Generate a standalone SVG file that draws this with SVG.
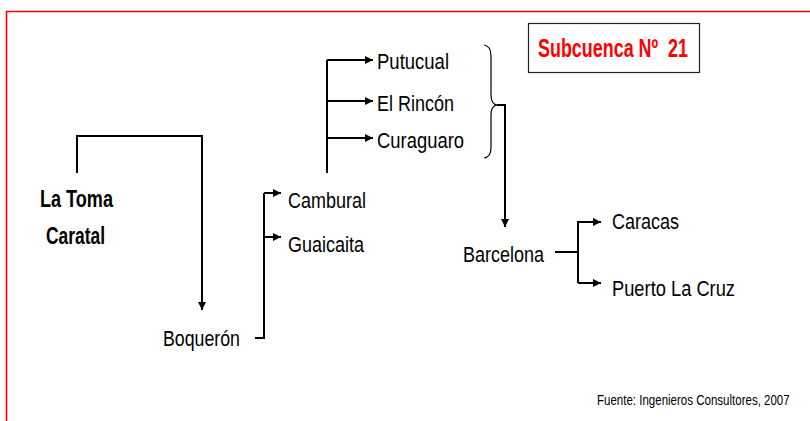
<svg xmlns="http://www.w3.org/2000/svg" width="810" height="421" viewBox="0 0 810 421">
<defs>
<marker id="ah" viewBox="0 0 10 10" refX="10" refY="5" markerWidth="8" markerHeight="8" markerUnits="userSpaceOnUse" orient="auto">
<path d="M0,0 L10,5 L0,10 z" fill="#000"/>
</marker>
</defs>
<style>
.t{font-family:"Liberation Sans Narrow","Liberation Sans",Arial,sans-serif;font-size:22px;fill:#000}
.b{font-weight:bold;font-size:23px}
.ln{fill:none;stroke:#000;stroke-width:2}
.ar{marker-end:url(#ah)}
</style>
<rect width="810" height="421" fill="#fff"/>
<path d="M6.5,421 V11.5 H810" fill="none" stroke="#f00" stroke-width="1.6"/>
<g id="subcuenca">
<rect x="528.5" y="23.5" width="171" height="49" fill="#fff" stroke="#222" stroke-width="1.2"/>
<text class="t b" x="538" y="57" xml:space="preserve" style="fill:#f00;font-size:25px;white-space:pre" textLength="150" lengthAdjust="spacingAndGlyphs">Subcuenca Nº  21</text>
</g>
<g id="connectors">
<path class="ln ar" d="M77,173 V136 H202 V310"/>
<path class="ln" d="M255,338 H264 V193"/>
<path class="ln ar" d="M264,193 H281"/>
<path class="ln ar" d="M264,237 H281"/>
<path class="ln" d="M327,173 V60"/>
<path class="ln ar" d="M327,60 H373"/>
<path class="ln ar" d="M327,101 H373"/>
<path class="ln ar" d="M327,138 H373"/>
<path d="M484,45 Q491,46 491,56 V95 Q491,104 497,105 Q491,106 491,115 V148 Q491,157 484,158" fill="none" stroke="#000" stroke-width="1.2"/>
<path class="ln ar" d="M497,105 H505 V227"/>
<path class="ln" d="M555,252 H578"/>
<path class="ln ar" d="M578,283 V222 H601"/>
<path class="ln ar" d="M578,283 H601"/>
</g>
<g id="la-toma"><text class="t b" x="40" y="207" textLength="73" lengthAdjust="spacingAndGlyphs">La Toma</text></g>
<g id="caratal"><text class="t b" x="46" y="244" textLength="59" lengthAdjust="spacingAndGlyphs">Caratal</text></g>
<g id="boqueron"><text class="t" x="163" y="346" textLength="77" lengthAdjust="spacingAndGlyphs">Boquerón</text></g>
<g id="cambural"><text class="t" x="288" y="208" textLength="78" lengthAdjust="spacingAndGlyphs">Cambural</text></g>
<g id="guaicaita"><text class="t" x="288" y="252" textLength="76" lengthAdjust="spacingAndGlyphs">Guaicaita</text></g>
<g id="putucual"><text class="t" x="377" y="69" textLength="72" lengthAdjust="spacingAndGlyphs">Putucual</text></g>
<g id="el-rincon"><text class="t" x="377" y="111" textLength="77" lengthAdjust="spacingAndGlyphs">El Rincón</text></g>
<g id="curaguaro"><text class="t" x="377" y="148" textLength="87" lengthAdjust="spacingAndGlyphs">Curaguaro</text></g>
<g id="barcelona"><text class="t" x="463" y="262" textLength="81" lengthAdjust="spacingAndGlyphs">Barcelona</text></g>
<g id="caracas"><text class="t" x="612" y="229" textLength="67" lengthAdjust="spacingAndGlyphs">Caracas</text></g>
<g id="puerto-la-cruz"><text class="t" x="612" y="296" textLength="123" lengthAdjust="spacingAndGlyphs">Puerto La Cruz</text></g>
<g id="fuente"><text class="t" transform="translate(597,405) scale(0.78,1)" x="0" y="0" style="font-size:15px" textLength="247" lengthAdjust="spacingAndGlyphs">Fuente: Ingenieros Consultores, 2007</text></g>
</svg>
